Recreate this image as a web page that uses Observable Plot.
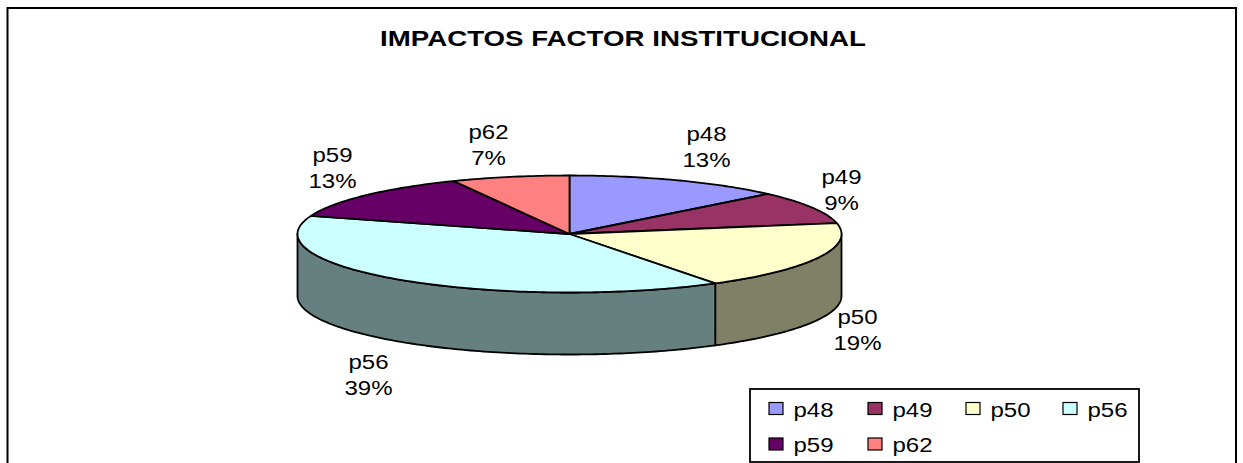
<!DOCTYPE html>
<html>
<head>
<meta charset="utf-8">
<script src="https://cdn.jsdelivr.net/npm/d3@7"></script>
<script src="https://cdn.jsdelivr.net/npm/@observablehq/plot@0.6"></script>
<style>html,body{margin:0;padding:0;background:#fff;overflow:hidden}svg{display:block}</style>
</head>
<body>
<div id="chart"></div>
<script>
const chartTitle = "IMPACTOS FACTOR INSTITUCIONAL";
const categories = ["p48", "p49", "p50", "p56", "p59", "p62"];
const percents = [13, 9, 19, 39, 13, 7];
const colors = ["#9999FF", "#993366", "#FFFFCC", "#CCFFFF", "#660066", "#FF8080"];

// Layout (pixels), separate from the data
const W = 1243, H = 463;
const pie = {cx: 569, cy: 233.5, rx: 272, ry: 58.5, depth: 62};
const labelNudge = [[137, -87.5], [272, -44.5], [288, 95.5], [-201, 140.5], [-237, -66.5], [-81, -89.5]];
const fs = 20, stretch = 1.2;

const arcs = d3.pie().sort(null)(percents);
const deg = Math.PI / 180;
const rim = (a, drop = 0) => ({
  x: pie.cx + pie.rx * Math.sin(a),
  y: pie.cy - pie.ry * Math.cos(a) + drop
});
const arcPts = (a0, a1, drop = 0) => {
  const n = Math.max(2, Math.ceil(Math.abs(a1 - a0) / deg));
  return d3.range(n + 1).map(i => rim(a0 + (a1 - a0) * i / n, drop));
};

const tops = categories.flatMap((cat, i) =>
  [{x: pie.cx, y: pie.cy}, ...arcPts(arcs[i].startAngle, arcs[i].endAngle)].map(p => ({...p, cat})));

const half = c => { const r = d3.rgb(c); return d3.rgb(r.r / 2, r.g / 2, r.b / 2).formatHex(); };
const sides = categories.flatMap((cat, i) => {
  const a0 = Math.max(arcs[i].startAngle, Math.PI / 2), a1 = Math.min(arcs[i].endAngle, 3 * Math.PI / 2);
  if (a1 <= a0) return [];
  return [...arcPts(a0, a1), ...arcPts(a1, a0, pie.depth)].map(p => ({...p, cat, shade: half(colors[i])}));
});

const labels = categories.map((cat, i) => ({
  cat, pct: percents[i] + "%",
  x: pie.cx + labelNudge[i][0],
  y: pie.cy + labelNudge[i][1]
}));

const legendCols = [769, 868, 966, 1063];
const legendRows = [408.5, 444];
const legend = categories.map((cat, i) => ({
  cat, x: legendCols[i % 4], y: legendRows[Math.floor(i / 4)]
}));

const txt = {fontFamily: "Liberation Sans", fontSize: fs, fill: "#000", lineAnchor: "bottom"};

const plot = Plot.plot({
  width: W, height: H,
  marginTop: 0, marginRight: 0, marginBottom: 0, marginLeft: 0,
  x: {domain: [0, W], range: [0, W], axis: null},
  y: {domain: [0, H], range: [0, H], axis: null},
  color: {domain: categories, range: colors},
  style: {background: "#fff", fontFamily: "Liberation Sans"},
  marks: [
    Plot.rect([{}], {x1: () => 7.5, x2: () => 1236, y1: () => 8, y2: () => 480, fill: "#fff", stroke: "#000", strokeWidth: 2}),
    Plot.text([chartTitle], {x: () => 622.5, y: () => 45, text: d => d, fontFamily: "Liberation Sans", fontWeight: "bold", fontSize: 21.5, fill: "#000", lineAnchor: "bottom", textAnchor: "middle", className: "ttl"}),
    Plot.line(sides, {x: "x", y: "y", z: "cat", fill: {value: d => d.shade, scale: null}, stroke: "#000", strokeWidth: 1.8, curve: "linear-closed"}),
    Plot.line(tops, {x: "x", y: "y", z: "cat", fill: "cat", stroke: "#000", strokeWidth: 1.8, curve: "linear-closed"}),
    Plot.text(labels, {...txt, x: "x", y: d => d.y - 6, text: "cat", textAnchor: "middle", className: "st"}),
    Plot.text(labels, {...txt, x: "x", y: d => d.y + 20, text: "pct", textAnchor: "middle", className: "st"}),
    Plot.rect([{}], {x1: () => 750, x2: () => 1139, y1: () => 389, y2: () => 462, fill: "#fff", stroke: "#000", strokeWidth: 1.8}),
    Plot.rect(legend, {x1: "x", x2: d => d.x + 14, y1: d => d.y - 6, y2: d => d.y + 6, fill: "cat", stroke: "#000", strokeWidth: 1.2}),
    Plot.text(legend, {...txt, x: d => d.x + 24, y: d => d.y + 7.5, text: "cat", textAnchor: "start", className: "st"})
  ]
});
document.getElementById("chart").appendChild(plot);

// The reference's text is horizontally wide: stretch each label
plot.querySelectorAll(".st text").forEach(t => {
  t.setAttribute("textLength", t.getComputedTextLength() * stretch);
  t.setAttribute("lengthAdjust", "spacingAndGlyphs");
});
plot.querySelectorAll(".ttl text").forEach(t => {
  t.setAttribute("textLength", 486);
  t.setAttribute("lengthAdjust", "spacingAndGlyphs");
});
</script>
</body>
</html>
